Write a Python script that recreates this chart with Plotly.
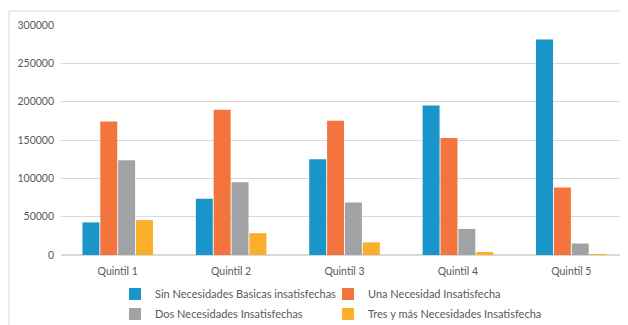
import plotly.graph_objects as go

quintiles = ["Quintil 1", "Quintil 2", "Quintil 3", "Quintil 4", "Quintil 5"]
sin_nbi = [42500, 73500, 125000, 195000, 281000]
una_nbi = [174000, 189500, 175000, 152500, 88000]
dos_nbi = [123500, 95000, 68500, 34000, 15000]
tres_nbi = [45500, 28500, 16500, 4000, 1300]

series = [
    ("Sin Necesidades Basicas insatisfechas", sin_nbi, "#1A95C9", "legend"),
    ("Una Necesidad Insatisfecha", una_nbi, "#F3743C", "legend"),
    ("Dos Necesidades Insatisfechas", dos_nbi, "#A0A3A5", "legend2"),
    ("Tres y más Necesidades Insatisfechas", tres_nbi, "#FAAF2C", "legend2"),
]

# the page body adds an 8px margin, so the figure is 8px smaller each way
W, H = 620, 317

fig = go.Figure()
for name, vals, color, leg in series:
    fig.add_trace(go.Bar(
        x=quintiles, y=vals, name=name, legend=leg,
        marker=dict(color=color, line=dict(width=0)),
    ))

legend_style = dict(
    orientation="h", xanchor="left", yanchor="middle",
    xref="container", yref="container", x=107 / W,
    entrywidth=168, itemwidth=30, bgcolor="rgba(0,0,0,0)",
    font=dict(size=11, color="#595959"),
)

fig.update_layout(
    width=W, height=H,
    margin=dict(l=53, r=0, t=17, b=70),
    paper_bgcolor="white", plot_bgcolor="white",
    font=dict(family="Lato, Liberation Sans, sans-serif", size=10.5, color="#595959"),
    barmode="group", bargap=0.37, bargroupgap=0.05,
    legend=dict(**legend_style, y=1 - 286 / H),
    legend2=dict(**legend_style, y=1 - 306 / H),
    yaxis=dict(range=[0, 300000], dtick=50000, tickformat="d",
               gridcolor="#D9D9D9", gridwidth=1, zeroline=True,
               zerolinecolor="#D9D9D9", zerolinewidth=1.5,
               ticks="", ticklabelstandoff=6, fixedrange=True),
    xaxis=dict(showgrid=False, ticks="", showline=False,
               ticklabelstandoff=8, fixedrange=True),
    shapes=[
        dict(type="line", xref="paper", yref="paper", x0=-0.0917, x1=1.05,
             y0=1.061, y1=1.061, line=dict(color="#D9D9D9", width=1)),
        dict(type="line", xref="paper", yref="paper", x0=-0.0917, x1=-0.0917,
             y0=1.061, y1=-0.35, line=dict(color="#D9D9D9", width=1)),
    ],
)

fig.write_html("out.html")
